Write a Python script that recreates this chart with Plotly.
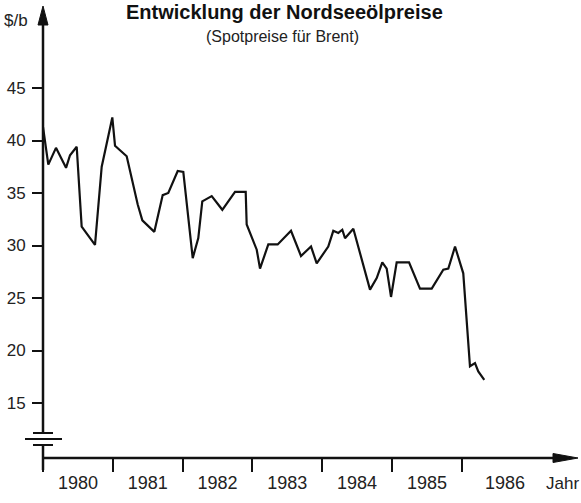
import plotly.graph_objects as go

# ---- data ----
years = [1980.00, 1980.076, 1980.186, 1980.33, 1980.387, 1980.483, 1980.554, 1980.745,
         1980.841, 1980.993, 1981.032, 1981.199, 1981.357, 1981.423, 1981.595, 1981.715,
         1981.795, 1981.930, 1982.010, 1982.145, 1982.225, 1982.282, 1982.417, 1982.569,
         1982.751, 1982.904, 1982.918, 1983.062, 1983.109, 1983.228, 1983.362, 1983.553,
         1983.696, 1983.840, 1983.921, 1984.087, 1984.159, 1984.231, 1984.288, 1984.327,
         1984.446, 1984.685, 1984.781, 1984.861, 1984.924, 1984.986, 1985.067, 1985.244,
         1985.401, 1985.569, 1985.735, 1985.807, 1985.903, 1986.021, 1986.117, 1986.189,
         1986.236, 1986.322]
prices = [41.3, 37.7, 39.3, 37.4, 38.6, 39.4, 31.8, 30.05,
          37.5, 42.2, 39.5, 38.5, 33.9, 32.4, 31.3, 34.8,
          35.0, 37.1, 37.0, 28.8, 30.7, 34.2, 34.7, 33.4,
          35.1, 35.1, 32.0, 29.6, 27.8, 30.1, 30.1, 31.4,
          29.0, 29.9, 28.3, 29.9, 31.4, 31.2, 31.5, 30.7,
          31.6, 25.8, 26.9, 28.4, 27.8, 25.1, 28.4, 28.4,
          25.9, 25.9, 27.7, 27.8, 29.9, 27.35, 18.5, 18.8,
          18.0, 17.2]

y_ticks = [15, 20, 25, 30, 35, 40, 45]
year_labels = ["1980", "1981", "1982", "1983", "1984", "1985", "1986"]
year_label_pos = [1980.5, 1981.5, 1982.5, 1983.5, 1984.5, 1985.5, 1986.62]
year_bounds = [1980, 1981, 1982, 1983, 1984, 1985, 1986]

title = "Entwicklung der Nordseeölpreise"
subtitle = "(Spotpreise für Brent)"
y_unit = "$/b"
x_unit = "Jahr"

# ---- layout geometry (pixels) ----
W, H = 581, 503
L, R, T, B = 43, 3, 8, 45
PW, PH = W - L - R, H - T - B


def px(x):
    return (x - L) / PW


def py(y):
    return (H - B - y) / PH


FONT = "Liberation Sans, Arial, Helvetica, sans-serif"
INK = "#111111"
TXT = "#222222"

fig = go.Figure()
fig.add_trace(go.Scatter(x=years, y=prices, mode="lines",
                         line=dict(color=INK, width=2.2), hoverinfo="skip",
                         showlegend=False))

shapes = []
# y axis (with break)
shapes.append(dict(type="line", xref="paper", yref="paper", x0=px(43), x1=px(43),
                   y0=py(470), y1=py(445), line=dict(color=INK, width=2.5)))
shapes.append(dict(type="line", xref="paper", yref="paper", x0=px(43), x1=px(43),
                   y0=py(433), y1=py(22), line=dict(color=INK, width=2.5)))
# y arrow head
shapes.append(dict(type="path", xref="paper", yref="paper",
                   path=f"M {px(43)} {py(6)} L {px(38)} {py(25)} L {px(48)} {py(25)} Z",
                   fillcolor=INK, line=dict(color=INK, width=1)))
# break marks
for yy, xa, xb in [(433, 33, 53), (439, 25, 62), (445, 33, 53)]:
    shapes.append(dict(type="line", xref="paper", yref="paper", x0=px(xa), x1=px(xb),
                       y0=py(yy), y1=py(yy), line=dict(color=INK, width=2)))
# x axis
shapes.append(dict(type="line", xref="paper", yref="paper", x0=px(43), x1=px(556),
                   y0=py(458), y1=py(458), line=dict(color=INK, width=2.5)))
shapes.append(dict(type="path", xref="paper", yref="paper",
                   path=f"M {px(578)} {py(458)} L {px(553)} {py(453.5)} L {px(553)} {py(462.5)} Z",
                   fillcolor=INK, line=dict(color=INK, width=1)))

annotations = [
    dict(text=f"<b>{title}</b>", xref="paper", yref="paper", x=px(284), y=py(20),
         xanchor="center", yanchor="bottom", showarrow=False, yshift=-5,
         font=dict(family=FONT, size=20, color=INK)),
    dict(text=subtitle, xref="paper", yref="paper", x=px(282), y=py(37),
         xanchor="center", yanchor="middle", showarrow=False,
         font=dict(family=FONT, size=16, color=TXT)),
    dict(text=y_unit, xref="paper", yref="paper", x=px(2), y=py(21),
         xanchor="left", yanchor="middle", showarrow=False,
         font=dict(family=FONT, size=17, color=TXT)),
    dict(text=x_unit, xref="paper", yref="paper", x=px(581), y=py(484),
         xanchor="right", yanchor="middle", showarrow=False,
         font=dict(family=FONT, size=17, color=TXT)),
]

fig.update_layout(
    width=W, height=H,
    margin=dict(l=L, r=R, t=T, b=B, pad=0),
    paper_bgcolor="white", plot_bgcolor="white",
    shapes=shapes, annotations=annotations,
    xaxis=dict(range=[1980, 1980 + PW / 69.8], showline=False, showgrid=False,
               zeroline=False, tickmode="array", tickvals=year_label_pos,
               ticktext=year_labels, ticks="", ticklabelstandoff=12,
               tickfont=dict(family=FONT, size=18, color=TXT),
               minor=dict(tickmode="array", tickvals=year_bounds, ticks="outside",
                          ticklen=13, tickwidth=1.5, tickcolor=INK, showgrid=False)),
    yaxis=dict(range=[45 - (458 - 88) / 10.5, 45 + (88 - 8) / 10.5], showline=False,
               showgrid=False, zeroline=False, tickmode="array", tickvals=y_ticks,
               ticks="outside", ticklen=10, tickwidth=1.5, tickcolor=INK,
               ticklabelstandoff=3,
               tickfont=dict(family=FONT, size=17, color=TXT)),
)

fig.write_html("out.html", config={"displayModeBar": False},
               post_script="document.body.style.margin='0';")
